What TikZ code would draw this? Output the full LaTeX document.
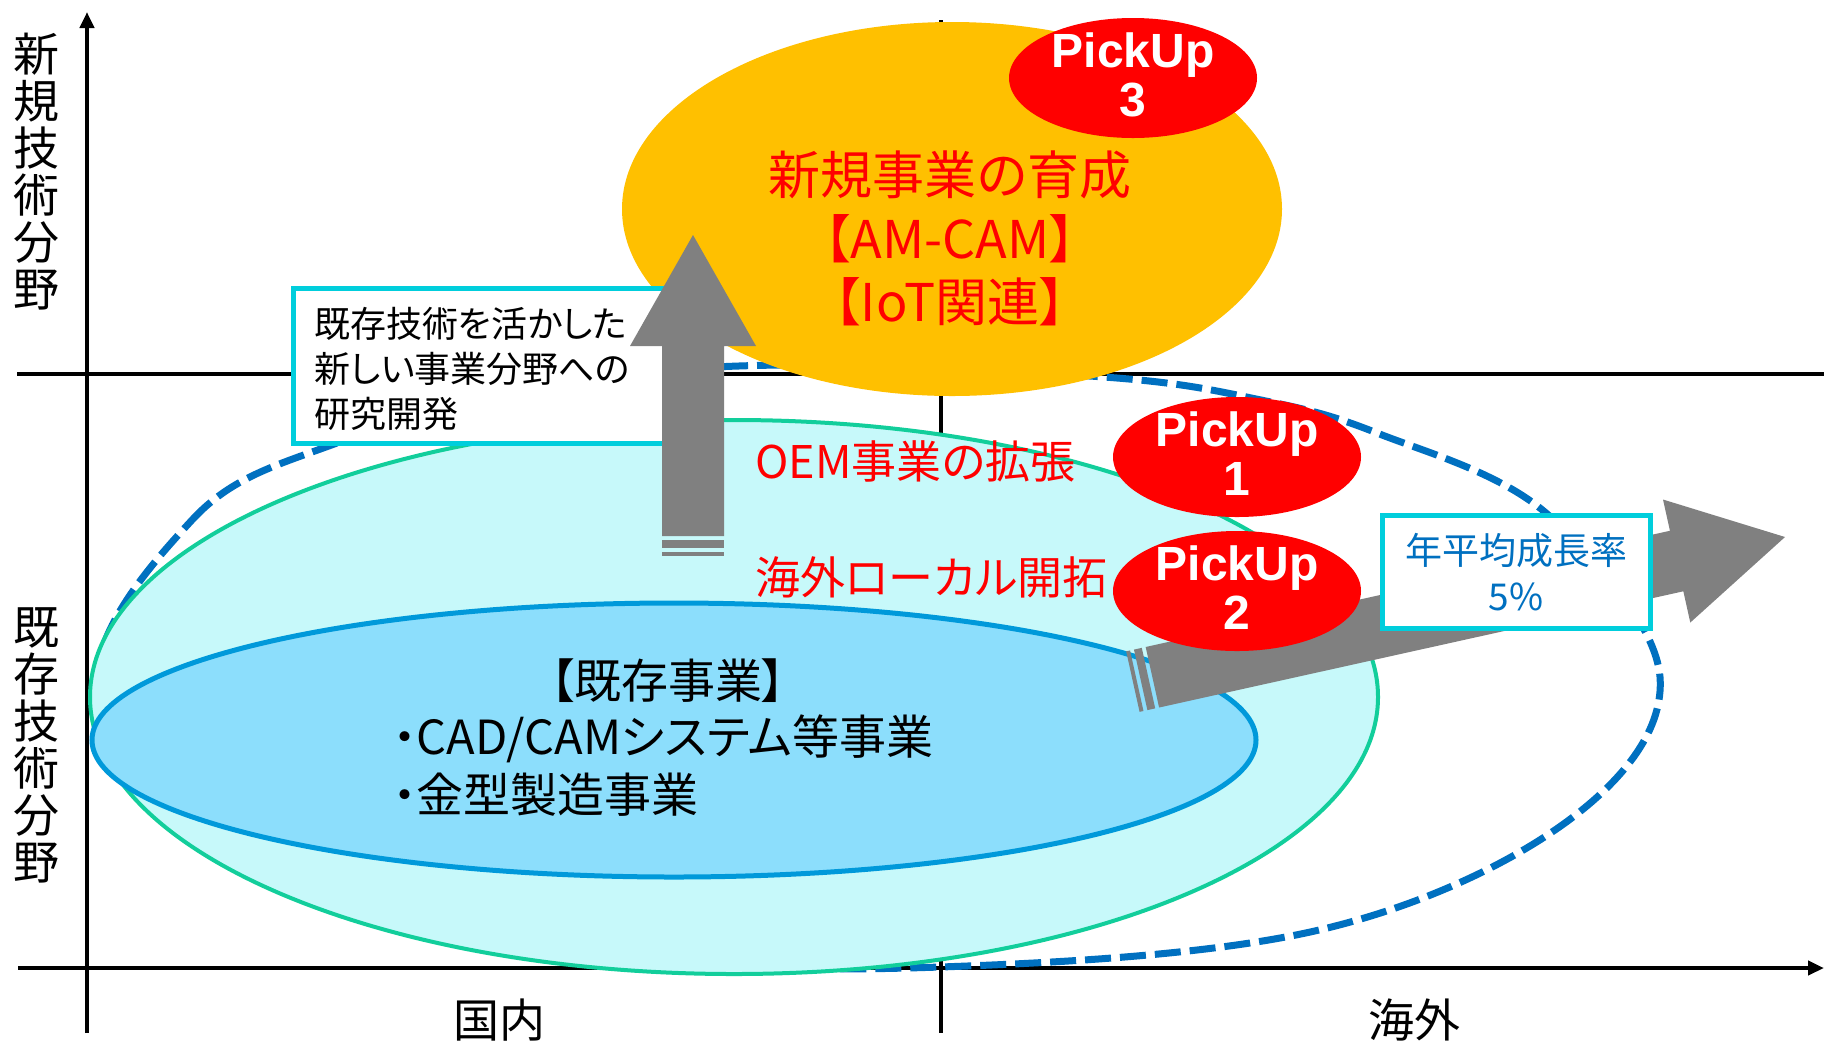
\documentclass[tikz,border=0pt]{standalone}
\usepackage{fontspec}
\setmainfont{Noto Sans CJK JP}[RawFeature=+palt]
\newfontfamily\pkfont{Liberation Sans}
\usetikzlibrary{shapes.geometric,arrows.meta}
\definecolor{orangeY}{RGB}{255,192,0}
\definecolor{pkred}{RGB}{255,0,0}
\definecolor{cyanfill}{RGB}{199,249,250}
\definecolor{greenline}{RGB}{18,206,155}
\definecolor{bluefill}{RGB}{140,222,252}
\definecolor{blueline}{RGB}{0,153,218}
\definecolor{boxline}{RGB}{0,206,220}
\definecolor{dashblue}{RGB}{0,112,192}
\definecolor{arrowgrey}{RGB}{128,128,128}
\newcommand{\fsz}[2]{\fontsize{#1}{#2}\selectfont}
\newcommand{\stripedarrow}[1]{%
  \fill[arrowgrey] (0,0) -- (-111,63) -- (-111,31) -- (-#1,31) -- (-#1,-31) -- (-111,-31) -- (-111,-63) -- cycle;
  \fill[arrowgrey] (-#1-4,31) rectangle (-#1-12,-31);
  \fill[arrowgrey] (-#1-16,31) rectangle (-#1-20,-31);
}
\tikzset{
  axisline/.style={line width=2pt, black},
  axistip/.style={-{Triangle[width=7pt,length=8pt]}},
  dashcurve/.style={draw=dashblue, line width=3.5pt, dash pattern=on 13pt off 4.5pt},
  ell/.style={ellipse, inner sep=0pt},
  pickup/.style={ell, fill=pkred, minimum width=124pt, minimum height=60pt},
  pktext/.style={text=white, align=center, inner sep=0pt, font=\pkfont\bfseries\fsz{24}{24.5}},
  infobox/.style={draw=boxline, line width=2.5pt, fill=white, inner sep=0pt},
  lbl/.style={inner sep=0pt},
}
\begin{document}
\begin{tikzpicture}[x=0.5pt,y=-0.5pt]
\useasboundingbox (0,0) rectangle (1824,1040);
\fill[white] (0,0) rectangle (1824,1040);
% axes
\coordinate (vb) at (87,1033); \coordinate (vt) at (87,12);
\coordinate (hl) at (18,968); \coordinate (hr) at (1824,968);
\coordinate (ml) at (17,374); \coordinate (mr) at (1824,374);
\coordinate (mt) at (941,20); \coordinate (mb) at (941,1033);
\draw[axisline] (ml) -- (mr);
\draw[axisline] (mt) -- (mb);
\draw[axisline,axistip] (vb) -- (vt);
\draw[axisline,axistip] (hl) -- (hr);
% dashed expansion region
\draw[dashcurve] plot[smooth cycle, tension=0.6] coordinates {(100,700) (192,520) (337,443) (560,385) (780,365) (1104,377) (1261,400) (1377,433) (1546,513) (1660,677) (1569,820) (1319,930) (940,967) (600,955) (300,880)};
% ellipses
\node[ell, fill=cyanfill, draw=greenline, line width=2pt, minimum width=644pt, minimum height=277pt] (cyanell) at (734,697) {};
\node[ell, fill=bluefill, draw=blueline, line width=2.5pt, minimum width=582pt, minimum height=137pt] (blueell) at (674,740) {};
\node[ell, fill=orangeY, minimum width=330pt, minimum height=187pt] (orange) at (952,209) {};
% texts in ellipses
\node[lbl, text=pkred, align=center, font=\fsz{26}{31.75}] (newbiz) at (950,238.5) {新規事業の育成\\【AM-CAM】\\【IoT関連】};
\node[lbl, font=\fsz{23.5}{29}] (kizonhead) at (668,681) {【既存事業】};
\node[lbl, anchor=west, align=left, font=\fsz{23.5}{29}] (kizonlist) at (393,766) {・CAD/CAMシステム等事業\\・金型製造事業};
\node[lbl, anchor=west, text=pkred, font=\fsz{22.5}{28}] (oem) at (755,461) {OEM事業の拡張};
\node[lbl, anchor=west, text=pkred, font=\fsz{22.5}{28}] (local) at (755,577) {海外ローカル開拓};
% axis labels
\node[lbl, align=center, font=\fsz{23}{23.5}] (ynew) at (36,172) {新\\規\\技\\術\\分\\野};
\node[lbl, align=center, font=\fsz{23}{23.5}] (yold) at (36,745) {既\\存\\技\\術\\分\\野};
\node[lbl, font=\fsz{23}{23.5}] (domestic) at (499,1020) {国内};
\node[lbl, font=\fsz{23}{23.5}] (overseas) at (1414,1020) {海外};
% left info box
\node[infobox, minimum width=198.5pt, minimum height=77.5pt] (boxL) at (491.5,365.5) {};
\node[lbl, anchor=west, align=left, font=\fsz{18}{22.5}] (boxLtext) at (314,369) {既存技術を活かした\\新しい事業分野への\\研究開発};
% arrows
\begin{scope}[shift={(693,235)}, rotate=90]
  \stripedarrow{301}
\end{scope}
\begin{scope}[shift={(1785,537)}, rotate=12.5]
  \stripedarrow{648}
\end{scope}
% right info box
\node[infobox, minimum width=134pt, minimum height=56.5pt] (boxR) at (1516,571.5) {};
\node[lbl, text=dashblue, align=center, font=\fsz{18.5}{23}] (boxRtext) at (1516,572) {年平均成長率\\5\%};
% pickups
\node[pickup] (pk3) at (1133,78) {};
\node[pktext] (pk3t) at (1133,75) {PickUp\\3};
\node[pickup] (pk1) at (1237,457) {};
\node[pktext] (pk1t) at (1237,454) {PickUp\\1};
\node[pickup] (pk2) at (1237,591) {};
\node[pktext] (pk2t) at (1237,588) {PickUp\\2};
\end{tikzpicture}
\end{document}
